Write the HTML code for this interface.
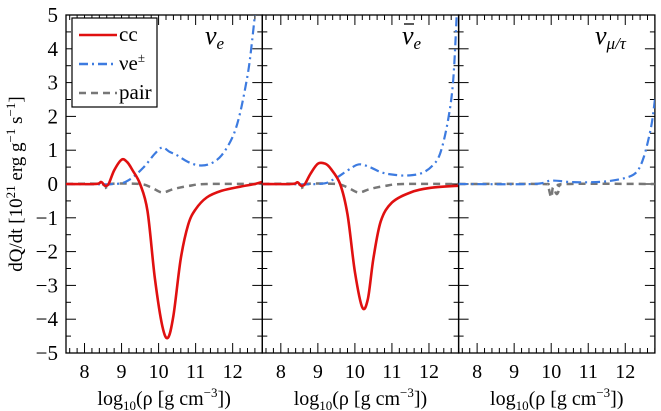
<!DOCTYPE html>
<html><head><meta charset="utf-8"><style>
body{margin:0;background:#fff;font-family:'Liberation Serif',Times,'Times New Roman',serif}
svg{display:block;font-family:'Liberation Serif',Times,'Times New Roman',serif}
text,tspan{font-family:'Liberation Serif',Times,'Times New Roman',serif !important}
</style></head><body>
<svg id="c" width="661" height="411" xmlns="http://www.w3.org/2000/svg"></svg>
<script>
const xTicks=[8,9,10,11,12];
const yTicks=[5,4,3,2,1,0,-1,-2,-3,-4,-5];
const ccX=[[7.5,8.3,8.45,8.55,8.65,8.8,9.0,9.15,9.3,9.5,9.7,9.9,10.1,10.25,10.4,10.6,10.8,11.0,11.3,11.7,12.2,12.6,12.8],
 [7.5,8.3,8.45,8.55,8.65,8.8,9.0,9.2,9.35,9.6,9.8,10.0,10.2,10.35,10.5,10.7,11.0,11.5,12.0,12.8],[]];
const ccY=[[0,0,0.06,-0.05,0.0,0.4,0.72,0.65,0.4,0.0,-0.8,-2.8,-4.2,-4.55,-3.9,-2.2,-1.2,-0.75,-0.4,-0.2,-0.08,0.0,0.06],
 [0,0,0.05,-0.05,0.0,0.3,0.6,0.6,0.45,0.0,-0.9,-2.6,-3.65,-3.4,-2.2,-1.1,-0.55,-0.25,-0.12,-0.05],[]];
const veX=[[7.5,8.8,9.2,9.6,9.9,10.1,10.3,10.5,10.8,11.1,11.4,11.7,12.0,12.2,12.4,12.5,12.6],
 [7.5,9.0,9.4,9.8,10.1,10.4,10.7,11.0,11.4,11.8,12.1,12.3,12.5,12.65,12.75],
 [7.5,9.5,10.0,10.5,11.0,11.5,12.0,12.3,12.5,12.7,12.8]];
const veY=[[0,0,0.12,0.5,0.9,1.08,0.95,0.85,0.65,0.55,0.6,0.85,1.4,2.1,3.2,4.0,5.0],
 [0,0,0.12,0.4,0.58,0.5,0.35,0.28,0.25,0.32,0.55,0.9,1.8,3.0,5.0],
 [0,0,0.1,0.06,0.05,0.08,0.18,0.35,0.8,1.7,2.5]];
const prX=[[7.5,8.45,8.6,8.7,9.5,9.8,10.1,10.4,10.8,11.3,12.8],
 [7.5,8.45,8.6,8.7,9.5,9.8,10.1,10.4,10.8,11.3,12.8],
 [7.5,9.7,9.9,10.0,10.05,10.15,10.25,10.4,12.8]];
const prY=[[0,0,-0.15,0,0,-0.1,-0.25,-0.15,-0.06,0,0],
 [0,0,-0.15,0,0,-0.1,-0.25,-0.15,-0.06,0,0],
 [0,0,-0.05,-0.4,-0.1,-0.3,-0.1,0,0]];
const NS="http://www.w3.org/2000/svg";
const svg=document.getElementById('c');
const L=66,T=15,B=353,PW=196.3,X0=7.5,X1=12.8;
function sx(p,v){return L+p*PW+(v-X0)/(X1-X0)*PW;}
function sy(v){return T+(5-v)/10*(B-T);}
function mk(t,a,p){const e=document.createElementNS(NS,t);for(const k in a)e.setAttribute(k,a[k]);(p||svg).appendChild(e);return e;}
function line(x1,y1,x2,y2){const e=mk('line',{x1,y1,x2,y2,stroke:'#000','stroke-width':1});

}
function smooth(pts){let d='M'+pts[0][0].toFixed(1)+','+pts[0][1].toFixed(1);
 for(let i=0;i<pts.length-1;i++){const p0=pts[Math.max(0,i-1)],p1=pts[i],p2=pts[i+1],p3=pts[Math.min(pts.length-1,i+2)];
  const c1=[p1[0]+(p2[0]-p0[0])/6,p1[1]+(p2[1]-p0[1])/6],c2=[p2[0]-(p3[0]-p1[0])/6,p2[1]-(p3[1]-p1[1])/6];
  d+='C'+c1.map(v=>v.toFixed(1))+' '+c2.map(v=>v.toFixed(1))+' '+p2.map(v=>v.toFixed(1));}
 return d;}
for(let p=0;p<3;p++){
 const cp=mk('clipPath',{id:'cp'+p});mk('rect',{x:sx(p,X0),y:T,width:PW,height:B-T},cp);
 const fr=mk('rect',{x:sx(p,X0),y:T,width:PW,height:B-T,fill:'none',stroke:'#000','stroke-width':1.3});
 
 
 for(let v=7.6;v<12.8;v+=0.2){const x=sx(p,v);const maj=Math.abs(v-Math.round(v))<0.01;const h=maj?10:5;line(x,B,x,B-h);line(x,T,x,T+h);}
 for(let v=-5;v<=5;v+=0.5){const y=sy(v);const h=Number.isInteger(v)?10:5;line(sx(p,X0),y,sx(p,X0)+h,y);line(sx(p,X1),y,sx(p,X1)-h,y);}
 xTicks.forEach(v=>{const t=mk('text',{x:sx(p,v),y:B+25,'text-anchor':'middle','font-size':20});t.textContent=v;
  
  });
 const xt=mk('text',{x:sx(p,10.15),y:B+52,'text-anchor':'middle','font-size':20});
 xt.innerHTML='log<tspan font-size="13" dy="5">10</tspan><tspan dy="-5">(ρ [g cm</tspan><tspan font-size="13" dy="-8">−3</tspan><tspan dy="8">])</tspan>';
 
 
 const series=[[prX[p],prY[p],'#777','7,5',2.5,'pair'],[veX[p],veY[p],'#3d7be0','9,4,2,4',2.2,'ve'],[ccX[p],ccY[p],'#e01010','',2.6,'cc']];
 series.forEach(s=>{if(!s[0].length)return;
  const d=smooth(s[0].map((x,i)=>[sx(p,x),sy(Math.min(5.3,s[1][i]))]));
  const e=mk('path',{d,fill:'none',stroke:s[2],'stroke-width':s[4],'stroke-dasharray':s[3],'stroke-linejoin':'round','clip-path':'url(#cp'+p+')'});
  
  });
}
const pl=[['ν','e'],['ν','e'],['ν','μ/τ']];
const px=[[205,219],[402,416],[595,609]];
pl.forEach((l,i)=>{const t=mk('text',{x:px[i][0],y:44,'font-size':26,'font-style':'italic'});
 t.innerHTML=l[0]+'<tspan font-size="17" dy="5">'+l[1]+'</tspan>';
 
 });
const bar=mk('line',{x1:404,y1:24,x2:414,y2:24,stroke:'#000','stroke-width':1.3});


yTicks.forEach(v=>{const t=mk('text',{x:58,y:sy(v)+7,'text-anchor':'end','font-size':21});t.textContent=v<0?'−'+(-v):v;
 
 });
const yt=mk('text',{transform:'translate(22,184) rotate(-90)','text-anchor':'middle','font-size':19});
yt.innerHTML='dQ/dt [10<tspan font-size="13" dy="-7">21</tspan><tspan dy="7"> erg g</tspan><tspan font-size="13" dy="-7">−1</tspan><tspan dy="7"> s</tspan><tspan font-size="13" dy="-7">−1</tspan><tspan dy="7">]</tspan>';


const lg=mk('g',{});
mk('rect',{x:72,y:18,width:85,height:89,fill:'#fff',stroke:'#000','stroke-width':1.2},lg);
[['cc','#e01010',''],['νe±','#3d7be0','9,4,2,4'],['pair','#777','7,5']].forEach((e,i)=>{const y=35+i*29;
 mk('line',{x1:79,y1:y,x2:117,y2:y,stroke:e[1],'stroke-width':2.5,'stroke-dasharray':e[2]},lg);
 const t=mk('text',{x:119,y:y+6,'font-size':21},lg);
 t.innerHTML=i==1?'νe<tspan font-size="13" dy="-8">±</tspan>':e[0];
 
 });
</script>
</body></html>
